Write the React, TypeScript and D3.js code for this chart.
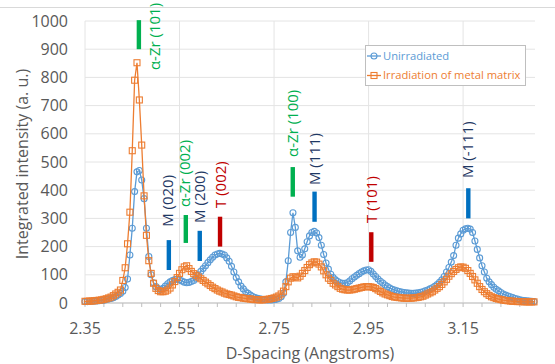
import React from "react";
import * as d3 from "d3";

// sampling grid of the diffractogram, in Angstroms
const dStart = 2.35;
const dStep = 0.005;

const unirradiated = [
  5, 5, 6, 6, 7, 7, 8, 9, 10, 12,
  14, 16, 19, 23, 28, 34, 42, 55, 85, 170,
  265, 395, 465, 470, 436, 370, 265, 165, 100, 72,
  58, 50, 48, 52, 60, 68, 75, 80, 83, 84,
  82, 78, 74, 72, 73, 76, 80, 88, 100, 112,
  122, 132, 143, 153, 162, 170, 174, 176, 174, 170,
  160, 148, 130, 110, 90, 75, 60, 50, 40, 34,
  28, 23, 19, 17, 15, 13, 12, 11, 11, 11,
  12, 13, 16, 22, 35, 75, 150, 250, 320, 268,
  185, 162, 170, 192, 217, 238, 250, 254, 248, 232,
  205, 172, 142, 120, 102, 90, 82, 76, 72, 70,
  70, 72, 78, 86, 92, 98, 104, 110, 114, 117,
  118, 112, 103, 94, 85, 77, 71, 64, 58, 53,
  49, 46, 43, 41, 39, 37, 36, 35, 34, 34,
  35, 36, 38, 40, 43, 46, 50, 54, 59, 65,
  73, 82, 94, 110, 126, 145, 168, 205, 230, 245,
  258, 263, 265, 262, 250, 220, 190, 160, 132, 110,
  88, 75, 65, 56, 49, 43, 37, 32, 28, 25,
  22, 19, 16, 14, 11, 10, 9, 8, 7, 6,
  5,
];

const irradiated = [
  6, 6, 7, 7, 8, 9, 10, 11, 13, 15,
  18, 21, 26, 32, 38, 46, 80, 125, 210, 322,
  540, 790, 852, 720, 560, 380, 240, 150, 105, 70,
  52, 44, 40, 40, 42, 46, 53, 64, 76, 90,
  105, 118, 128, 132, 122, 112, 104, 98, 92, 86,
  80, 74, 68, 62, 56, 51, 46, 42, 39, 35,
  32, 30, 28, 25, 22, 20, 19, 17, 16, 15,
  14, 13, 12, 12, 11, 11, 12, 13, 14, 16,
  18, 21, 25, 32, 42, 58, 75, 88, 93, 92,
  89, 95, 105, 115, 126, 136, 142, 146, 145, 138,
  128, 114, 100, 88, 80, 70, 64, 58, 52, 49,
  47, 46, 46, 47, 49, 51, 53, 55, 57, 58,
  58, 57, 55, 51, 46, 41, 36, 32, 29, 26,
  23, 21, 20, 19, 18, 17, 17, 17, 17, 18,
  19, 20, 22, 24, 28, 32, 36, 40, 46, 52,
  58, 66, 75, 84, 95, 104, 112, 119, 125, 128,
  127, 123, 115, 105, 94, 82, 70, 58, 48, 40,
  33, 27, 22, 19, 16, 14, 12, 10, 9, 8,
  7, 6, 6, 5, 5, 5, 4, 4, 4, 4,
  4,
];

const seriesNames = ["Unirradiated", "Irradiation of metal matrix"];
const xTicks = [2.35, 2.55, 2.75, 2.95, 3.15];
const yTicks = [0, 100, 200, 300, 400, 500, 600, 700, 800, 900, 1000];

// reflection markers
const peakLabels = ["α-Zr (101)", "M (020)", "α-Zr (002)", "M (200)", "T (002)", "α-Zr (100)", "M (111)", "T (101)", "M (-111)"];
const peakPhase = ["Zr", "M", "Zr", "M", "T", "Zr", "M", "T", "M"];
const barD = [2.464, 2.5274, 2.5633, 2.5928, 2.6357, 2.7896, 2.8357, 2.9557, 3.161];
const barLow = [900, 117, 213, 149, 200, 377, 288, 146, 300];
const barHigh = [1003, 223, 312, 256, 306, 482, 395, 251, 407];
const labelD = [2.4983, 2.5257, 2.5616, 2.5934, 2.6368, 2.7903, 2.8357, 2.9563, 3.1606];
const labelV = [826, 270, 340, 284, 337, 518, 418, 284, 443];

const barColor = { Zr: "#00b050", M: "#0070c0", T: "#c00000" };
const textColor = { Zr: "#00b050", M: "#1f3864", T: "#c00000" };

const BLUE = "#5b9bd5";
const ORANGE = "#ed7d31";
const FONT = "'Open Sans', sans-serif";

export default function App() {
  const width = 555;
  const height = 364;

  const x = d3.scaleLinear().domain([2.35, 3.3]).range([85, 534]);
  const y = d3.scaleLinear().domain([0, 1000]).range([303, 21]);

  const toPts = (vals: number[]) => vals.map((v, i) => [dStart + i * dStep, v] as [number, number]);
  const bluePts = toPts(unirradiated);
  const orangePts = toPts(irradiated);

  const line = d3.line<[number, number]>().x(d => x(d[0])).y(d => y(d[1]));
  const minorTicks = d3.range(0, 24).map(i => 2.35 + i * 0.04);

  return (
    <svg width={width} height={height} style={{ position: "absolute", left: 0, top: 0, background: "#fff" }} fontFamily={FONT}>
      <line x1={0} x2={width} y1={7.5} y2={7.5} stroke="#d9d9d9" />

      {/* gridlines */}
      {yTicks.map(t => (
        <line key={"gy" + t} x1={x(2.35)} x2={535} y1={y(t)} y2={y(t)} stroke="#e4e4e4" />
      ))}
      {xTicks.map(t => (
        <line key={"gx" + t} x1={x(t)} x2={x(t)} y1={y(1000)} y2={y(0)} stroke="#e4e4e4" />
      ))}

      {/* x axis */}
      <line x1={x(2.35)} x2={535} y1={y(0)} y2={y(0)} stroke="#bfbfbf" />
      {minorTicks.map(t => (
        <line key={"mt" + t} x1={x(t)} x2={x(t)} y1={y(0)} y2={y(0) + 4} stroke="#bfbfbf" />
      ))}

      {yTicks.map(t => (
        <text key={"yl" + t} x={68} y={y(t)} dy="0.35em" textAnchor="end" fontSize={16} fill="#595959">{t}</text>
      ))}
      {xTicks.map(t => (
        <text key={"xl" + t} x={x(t)} y={328} dy="0.35em" textAnchor="middle" fontSize={16} fill="#595959">{t.toFixed(2)}</text>
      ))}
      <text x={310} y={353} dy="0.35em" textAnchor="middle" fontSize={16} fill="#595959">D-Spacing (Angstroms)</text>
      <text transform={`translate(22,${y(500) + 2}) rotate(-90)`} textAnchor="middle" dy="0.35em" fontSize={16} fill="#595959">Integrated intensity (a. u.)</text>

      {/* series */}
      <path d={line(bluePts) || ""} fill="none" stroke={BLUE} strokeWidth={1.3} />
      {bluePts.map((p, i) => (
        <circle key={"b" + i} cx={x(p[0])} cy={y(p[1])} r={3} fill="none" stroke={BLUE} strokeWidth={1.1} />
      ))}
      <path d={line(orangePts) || ""} fill="none" stroke={ORANGE} strokeWidth={1.3} />
      {orangePts.map((p, i) => (
        <rect key={"o" + i} x={x(p[0]) - 3} y={y(p[1]) - 3} width={6} height={6} fill="none" stroke={ORANGE} strokeWidth={1.1} />
      ))}

      {/* reflection markers */}
      {peakLabels.map((lab, i) => {
        const ph = peakPhase[i] as "Zr" | "M" | "T";
        return (
          <g key={"pk" + i}>
            <rect x={x(barD[i]) - 2.2} y={y(barHigh[i])} width={4.4} height={y(barLow[i]) - y(barHigh[i])} fill={barColor[ph]} />
            <text transform={`translate(${x(labelD[i])},${y(labelV[i])}) rotate(-90)`} dy="0.35em" fontSize={15} fill={textColor[ph]}>{lab}</text>
          </g>
        );
      })}

      {/* legend */}
      <rect x={365.5} y={45.5} width={160} height={40} fill="#fff" stroke="#bfbfbf" />
      <line x1={367} x2={381} y1={56} y2={56} stroke={BLUE} strokeWidth={1.3} />
      <circle cx={374} cy={56} r={3} fill="none" stroke={BLUE} strokeWidth={1.1} />
      <text x={383} y={56} dy="0.35em" fontSize={11.2} fill={BLUE}>{seriesNames[0]}</text>
      <line x1={367} x2={381} y1={75.5} y2={75.5} stroke={ORANGE} strokeWidth={1.3} />
      <rect x={371} y={72.5} width={6} height={6} fill="none" stroke={ORANGE} strokeWidth={1.1} />
      <text x={383} y={75.5} dy="0.35em" fontSize={11.2} fill={ORANGE}>{seriesNames[1]}</text>
    </svg>
  );
}
